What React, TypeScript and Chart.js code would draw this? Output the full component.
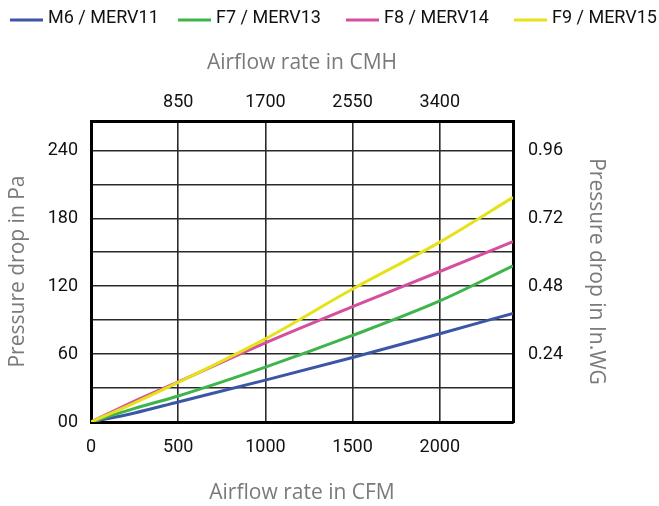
import React, { useEffect, useRef } from 'react';
import { Chart, registerables } from 'chart.js';

Chart.register(...registerables);

// ---- data ----
const airflowCFM = [0, 250, 500, 1000, 1500, 2000, 2420];
const m6Merv11 = [0, 8, 17.7, 37, 57, 78, 96];
const f7Merv13 = [0, 12, 23, 48.5, 76.5, 107, 138];
const f8Merv14 = [0, 18.5, 35.5, 70, 102, 133, 159.5];
const f9Merv15 = [0, 17, 35, 73.5, 117.5, 159, 198.5];

const seriesLabels = ['M6 / MERV11', 'F7 / MERV13', 'F8 / MERV14', 'F9 / MERV15'];
const seriesValues = [m6Merv11, f7Merv13, f8Merv14, f9Merv15];
const seriesColors = ['#3b56a6', '#3db54a', '#d64f9f', '#e6e21a'];
const seriesOrder = [3, 2, 1, 0];

const cfmTicks = [0, 500, 1000, 1500, 2000];
const cfmTickLabels = ['0', '500', '1000', '1500', '2000'];
const cmhTickLabels = ['', '850', '1700', '2550', '3400'];
const paGridValues = [0, 30, 60, 90, 120, 150, 180, 210, 240];
const paTicks = [0, 60, 120, 180, 240];
const paTickLabels = ['00', '60', '120', '180', '240'];
const inwgTickLabels = ['', '0.24', '0.48', '0.72', '0.96'];

const X_MAX = 2420;
const Y_MAX = 266;

const TICK_FONT = { family: 'Roboto', size: 18 };
const TITLE_FONT = { family: '"Open Sans"', size: 21 };
const TITLE_COLOR = '#7a7a7a';
const TICK_COLOR = '#111';

const setTicks = (values: number[]) => (scale: any) => {
  scale.ticks = values.map((value) => ({ value }));
};

const legendPlugin = {
  id: 'lineLegend',
  afterDraw(chart: any) {
    const ctx = chart.ctx;
    ctx.save();
    ctx.font = '18px Roboto';
    ctx.textBaseline = 'middle';
    ctx.textAlign = 'left';
    chart.data.datasets.forEach((ds: any, i: number) => {
      const x = 10 + i * 168;
      ctx.strokeStyle = ds.borderColor;
      ctx.lineWidth = 3;
      ctx.beginPath();
      ctx.moveTo(x, 20);
      ctx.lineTo(x + 33, 20);
      ctx.stroke();
      ctx.fillStyle = '#111';
      ctx.fillText(ds.label, x + 38, 18);
    });
    ctx.restore();
  },
};

export default function App() {
  const ref = useRef<HTMLCanvasElement | null>(null);

  useEffect(() => {
    if (!ref.current) return;
    const chart = new Chart(ref.current, {
      type: 'line',
      data: {
        datasets: seriesLabels.map((label, s) => ({
          label,
          data: airflowCFM.map((x, i) => ({ x, y: seriesValues[s][i] })),
          borderColor: seriesColors[s],
          backgroundColor: seriesColors[s],
          borderWidth: 3,
          pointRadius: 0,
          fill: false,
          cubicInterpolationMode: 'monotone' as const,
          order: seriesOrder[s],
          xAxisID: 'x',
          yAxisID: 'y',
        })),
      },
      options: {
        animation: false,
        responsive: false,
        maintainAspectRatio: false,
        layout: { padding: 0 },
        plugins: {
          legend: { display: false },
          tooltip: { enabled: false },
          title: { display: false },
        },
        scales: {
          x: {
            type: 'linear',
            position: 'bottom',
            min: 0,
            max: X_MAX,
            afterBuildTicks: setTicks(cfmTicks),
            afterFit: (s: any) => { s.height = 84; },
            ticks: {
              autoSkip: false,
              maxRotation: 0,
              padding: 15,
              font: TICK_FONT,
              color: TICK_COLOR,
              callback: (v: any) => {
                const i = cfmTicks.indexOf(Number(v));
                return i >= 0 ? cfmTickLabels[i] : '';
              },
            },
            grid: { color: '#2a2a2a', lineWidth: 1.6, drawTicks: false },
            border: { display: true, color: '#000', width: 3 },
            title: {
              display: true,
              text: 'Airflow rate in CFM',
              font: TITLE_FONT,
              color: TITLE_COLOR,
              padding: { top: 0, bottom: 0 },
            },
          },
          x2: {
            type: 'linear',
            position: 'top',
            min: 0,
            max: X_MAX,
            afterBuildTicks: setTicks(cfmTicks),
            afterFit: (s: any) => { s.height = 121; },
            ticks: {
              autoSkip: false,
              maxRotation: 0,
              padding: 8,
              font: TICK_FONT,
              color: TICK_COLOR,
              callback: (v: any) => {
                const i = cfmTicks.indexOf(Number(v));
                return i >= 0 ? cmhTickLabels[i] : '';
              },
            },
            grid: { display: false, drawTicks: false },
            border: { display: true, color: '#000', width: 3 },
            title: {
              display: true,
              text: 'Airflow rate in CMH',
              font: TITLE_FONT,
              color: TITLE_COLOR,
              padding: { top: 50, bottom: 0 },
            },
          },
          y: {
            type: 'linear',
            position: 'left',
            min: 0,
            max: Y_MAX,
            afterBuildTicks: setTicks(paGridValues),
            afterFit: (s: any) => { s.width = 91; },
            ticks: {
              autoSkip: false,
              padding: 13,
              font: TICK_FONT,
              color: TICK_COLOR,
              callback: (v: any) => {
                const i = paTicks.indexOf(Number(v));
                return i >= 0 ? paTickLabels[i] : '';
              },
            },
            grid: { color: '#2a2a2a', lineWidth: 1.6, drawTicks: false },
            border: { display: true, color: '#000', width: 3 },
            title: {
              display: true,
              text: 'Pressure drop in Pa',
              font: TITLE_FONT,
              color: TITLE_COLOR,
              padding: { top: 5, bottom: 0 },
            },
          },
          y2: {
            type: 'linear',
            position: 'right',
            min: 0,
            max: Y_MAX,
            afterBuildTicks: setTicks(paTicks),
            afterFit: (s: any) => { s.width = 146; },
            ticks: {
              autoSkip: false,
              padding: 15,
              font: TICK_FONT,
              color: TICK_COLOR,
              callback: (v: any) => {
                const i = paTicks.indexOf(Number(v));
                return i >= 0 ? inwgTickLabels[i] : '';
              },
            },
            grid: { display: false, drawTicks: false },
            border: { display: true, color: '#000', width: 3 },
            title: {
              display: true,
              text: 'Pressure drop in In.WG',
              font: TITLE_FONT,
              color: TITLE_COLOR,
              padding: { top: 50, bottom: 0 },
            },
          },
        },
      },
      plugins: [legendPlugin],
    } as any);
    return () => chart.destroy();
  }, []);

  return (
    <div style={{ position: 'absolute', left: 0, top: 0, width: 659, height: 506 }}>
      <canvas ref={ref} width={659} height={506} style={{ display: 'block' }} />
    </div>
  );
}
